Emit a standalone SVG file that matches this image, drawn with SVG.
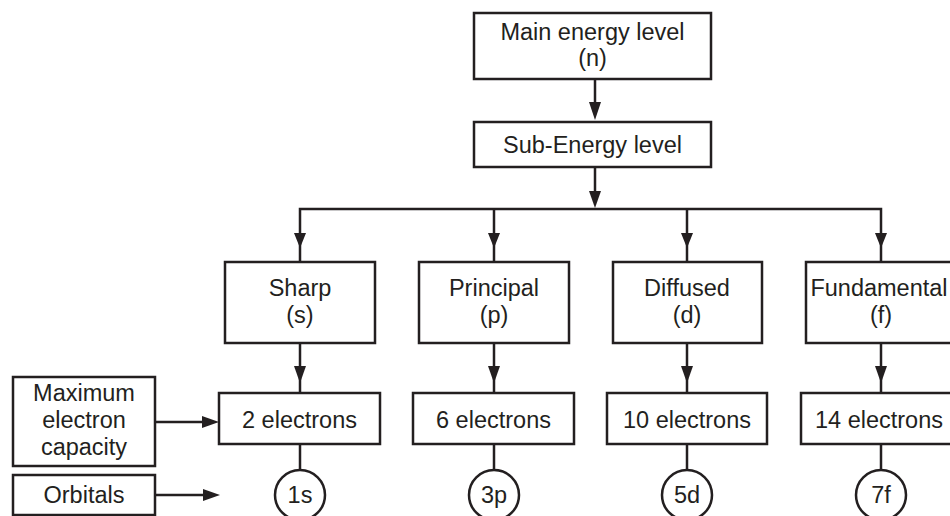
<svg xmlns="http://www.w3.org/2000/svg" width="950" height="516" viewBox="0 0 950 516">
<style>
.box{fill:#fff;stroke:#231f20;stroke-width:2.5}
.ln{fill:none;stroke:#231f20;stroke-width:2.5}
.ah{fill:#231f20}
text{font-family:"Liberation Sans",Arial,sans-serif;font-size:23.5px;fill:#231f20;text-anchor:middle}
</style>
<rect width="950" height="516" fill="#fff"/>
<g id="connectors">
<line class="ln" x1="595" y1="79" x2="595" y2="112"/>
<polygon class="ah" points="589,102 601,102 595,120"/>
<line class="ln" x1="595" y1="167" x2="595" y2="200"/>
<polygon class="ah" points="589,191 601,191 595,208"/>
<polyline class="ln" points="300,262 300,209 881,209 881,262"/>
<line class="ln" x1="494" y1="209" x2="494" y2="262"/>
<line class="ln" x1="687" y1="209" x2="687" y2="262"/>
<polygon class="ah" points="294,233 306,233 300,248"/>
<polygon class="ah" points="488,233 500,233 494,248"/>
<polygon class="ah" points="681,233 693,233 687,248"/>
<polygon class="ah" points="875,233 887,233 881,248"/>
<line class="ln" x1="300" y1="343" x2="300" y2="393"/>
<line class="ln" x1="494" y1="343" x2="494" y2="393"/>
<line class="ln" x1="687" y1="343" x2="687" y2="393"/>
<line class="ln" x1="881" y1="343" x2="881" y2="393"/>
<polygon class="ah" points="294,366 306,366 300,383"/>
<polygon class="ah" points="488,366 500,366 494,383"/>
<polygon class="ah" points="681,366 693,366 687,383"/>
<polygon class="ah" points="875,366 887,366 881,383"/>
<line class="ln" x1="300" y1="444" x2="300" y2="470"/>
<line class="ln" x1="494" y1="444" x2="494" y2="470"/>
<line class="ln" x1="687" y1="444" x2="687" y2="470"/>
<line class="ln" x1="881" y1="444" x2="881" y2="470"/>
<line class="ln" x1="155" y1="422" x2="205" y2="422"/>
<polygon class="ah" points="202,416 202,428 219,422"/>
<line class="ln" x1="155" y1="495" x2="205" y2="495"/>
<polygon class="ah" points="203,489 203,501 220,495"/>
</g>
<g id="main"><rect class="box" x="474" y="13" width="237" height="66"/><text x="592.5" y="40">Main energy level</text><text x="592.5" y="66">(n)</text></g>
<g id="sub"><rect class="box" x="474" y="122" width="237" height="45"/><text x="592.5" y="153">Sub-Energy level</text></g>
<g id="sharp"><rect class="box" x="225" y="262" width="150" height="81"/><text x="300" y="296">Sharp</text><text x="300" y="323">(s)</text></g>
<g id="principal"><rect class="box" x="419" y="262" width="150" height="81"/><text x="494" y="296">Principal</text><text x="494" y="323">(p)</text></g>
<g id="diffused"><rect class="box" x="613" y="262" width="149" height="81"/><text x="687" y="296">Diffused</text><text x="687" y="323">(d)</text></g>
<g id="fundamental"><rect class="box" x="806" y="262" width="150" height="81"/><text x="879" y="296">Fundamental</text><text x="881" y="323">(f)</text></g>
<g id="e2"><rect class="box" x="219" y="393" width="161" height="51"/><text x="299.5" y="428">2 electrons</text></g>
<g id="e6"><rect class="box" x="413" y="393" width="161" height="51"/><text x="493.5" y="428">6 electrons</text></g>
<g id="e10"><rect class="box" x="607" y="393" width="160" height="51"/><text x="687" y="428">10 electrons</text></g>
<g id="e14"><rect class="box" x="801" y="393" width="160" height="51"/><text x="879" y="428">14 electrons</text></g>
<g id="maxcap"><rect class="box" x="13" y="377" width="142" height="89"/><text x="84" y="401">Maximum</text><text x="84" y="428">electron</text><text x="84" y="455">capacity</text></g>
<g id="orbitals"><rect class="box" x="13" y="475" width="142" height="40"/><text x="84" y="503">Orbitals</text></g>
<g id="o1s"><circle class="box" cx="300" cy="495" r="25"/><text x="300" y="503">1s</text></g>
<g id="o3p"><circle class="box" cx="494" cy="495" r="25"/><text x="494" y="503">3p</text></g>
<g id="o5d"><circle class="box" cx="687" cy="495" r="25"/><text x="687" y="503">5d</text></g>
<g id="o7f"><circle class="box" cx="881" cy="495" r="25"/><text x="881" y="503">7f</text></g>
</svg>
